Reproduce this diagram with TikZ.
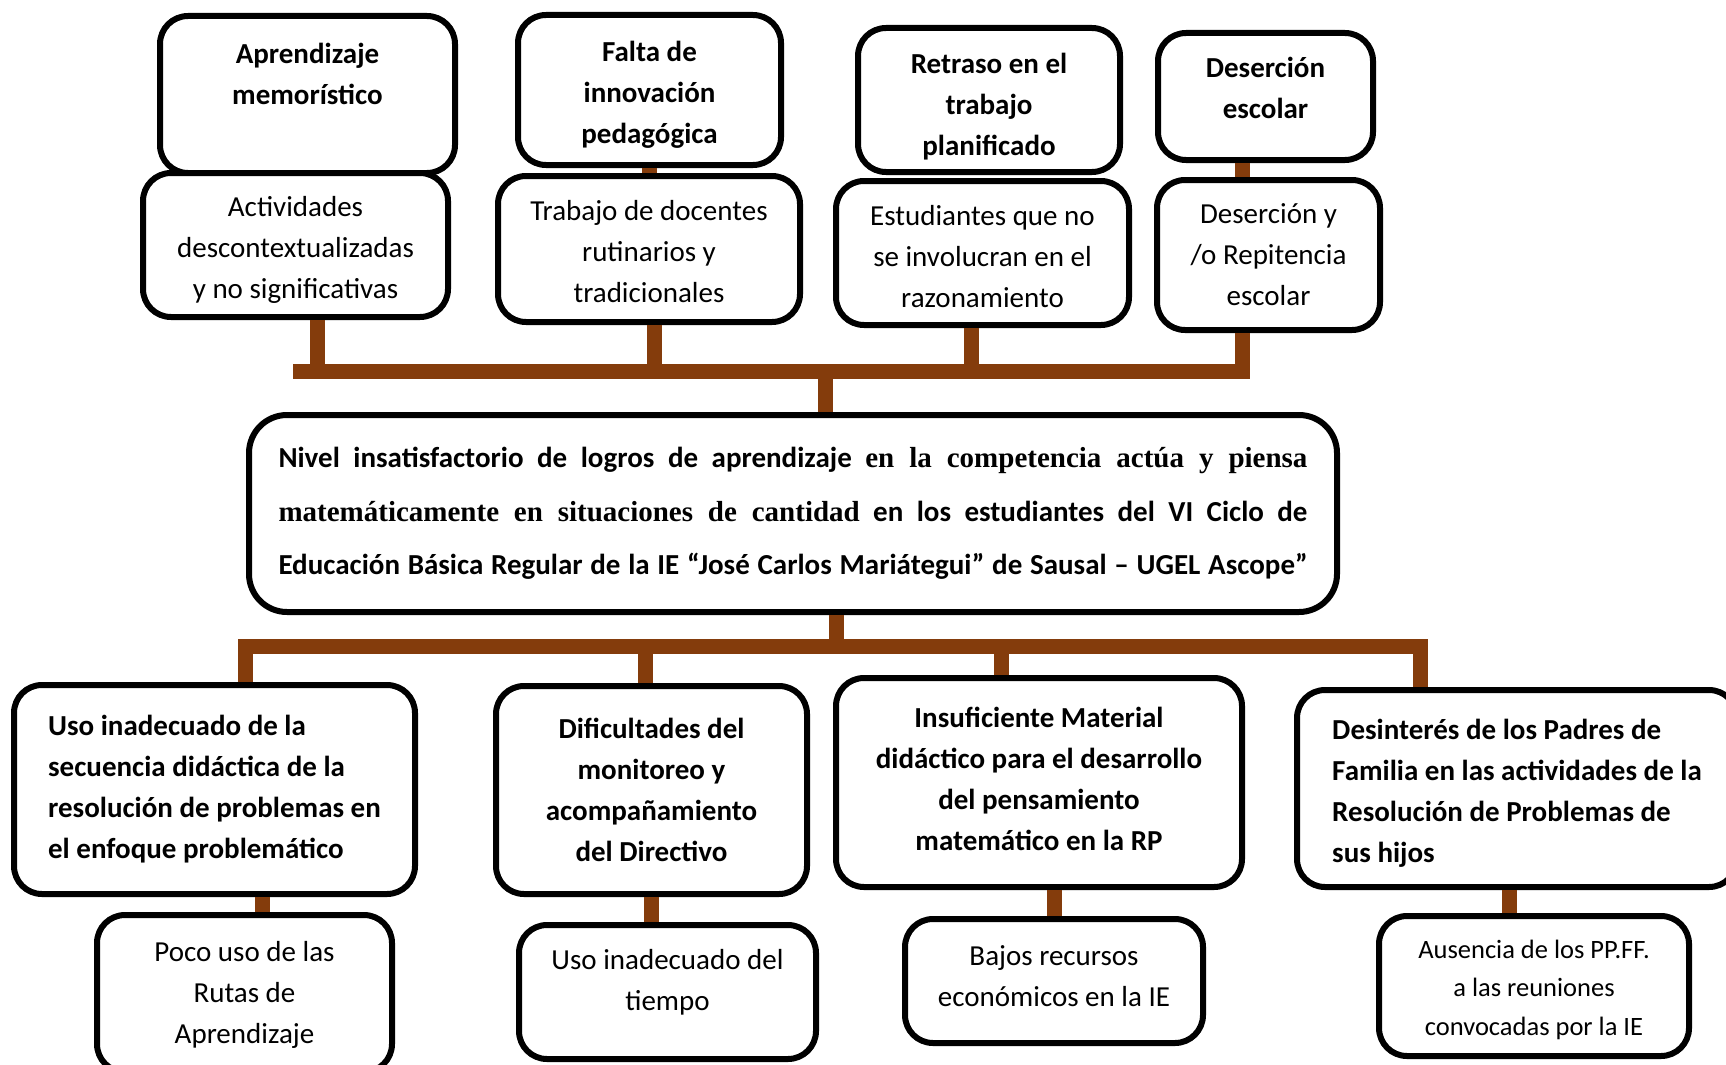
\documentclass[tikz,border=0pt]{standalone}
\usepackage{fontspec}
\setmainfont{Carlito}
\newfontfamily\romana{Liberation Serif}
\definecolor{cafe}{HTML}{843C0C}
\tikzset{
  caja/.style={draw,fill=white,line width=6pt,rounded corners=28pt,align=center,inner sep=0pt,font=\fontsize{29}{41}\selectfont},
  cajab/.style={caja,font=\bfseries\fontsize{29}{41}\selectfont},
  txt/.style={text height=#1pt,text depth=7pt},
  rama/.style={draw=cafe,line width=15pt},
}
\begin{document}
\begin{tikzpicture}[x=1pt,y=-1pt]
        \useasboundingbox(0,0)rectangle(1726,1065);
        \node[cajab,minimum width=295,minimum height=157](e1)at(307.5,94.5){Aprendizaje\\memorístico\\\mbox{}};
        \node[caja,txt=113,minimum width=305,minimum height=144](s1)at(295.5,245){Actividades\\descontextualizadas\\y no significativas};
        \node[cajab,txt=113,minimum width=263,minimum height=150](e2)at(649.5,90){Falta de\\innovación\\pedagógica};
        \node[caja,txt=113,minimum width=302,minimum height=146](s2)at(649,249){Trabajo de docentes\\rutinarios y\\tradicionales};
        \node[cajab,txt=117,minimum width=262,minimum height=144](e3)at(989,100){Retraso en el\\trabajo\\planificado};
        \node[caja,txt=115,minimum width=293,minimum height=144](s3)at(982.5,253){Estudiantes que no\\se involucran en el\\razonamiento};
        \node[cajab,txt=50,minimum width=215,minimum height=127](e4)at(1265.5,96.5){Deserción\\escolar};
        \node[caja,txt=107,minimum width=223,minimum height=150](s4)at(1268.5,255){Deserción y\\/o Repitencia\\escolar};
        \node[cajab,rounded corners=38pt,minimum width=1088,minimum height=197,font=\bfseries\fontsize{29}{53.5}\selectfont](main)at(793,513.5){%
          \makebox[1029pt][s]{Nivel insatisfactorio de logros de aprendizaje {\romana en la competencia actúa y piensa}}\\
          \makebox[1029pt][s]{{\romana matemáticamente en situaciones de cantidad} en los estudiantes del VI Ciclo de}\\
          \makebox[1029pt][s]{Educación Básica Regular de la IE “José Carlos Mariátegui” de Sausal – UGEL Ascope”}};
        \node[cajab,align=left,minimum width=401,minimum height=209](c1)at(214.5,789.5){Uso inadecuado de la\\secuencia didáctica de la\\resolución de problemas en\\el enfoque problemático};
        \node[caja,txt=106,minimum width=295,minimum height=157](d1)at(244.5,993.5){Poco uso de las\\Rutas de\\Aprendizaje};
        \node[cajab,minimum width=311,minimum height=208](c2)at(651.5,790){Dificultades del\\monitoreo y\\acompañamiento\\del Directivo};
        \node[caja,txt=43,minimum width=297,minimum height=134](d2)at(667.5,992){Uso inadecuado del\\tiempo};
        \node[cajab,txt=142,minimum width=406,minimum height=209](c3)at(1039,782.5){Insuficiente Material\\didáctico para el desarrollo\\del pensamiento\\matemático en la RP};
        \node[caja,txt=57,minimum width=298,minimum height=124](d3)at(1054,981){Bajos recursos\\económicos en la IE};
        \node[cajab,txt=154,align=left,minimum width=440,minimum height=197](c4)at(1517,788.5){Desinterés de los Padres de\\Familia en las actividades de la\\Resolución de Problemas de\\sus hijos};
        \node[caja,txt=105,minimum width=310,minimum height=140,font=\fontsize{26.5}{38.5}\selectfont](d4)at(1534,986){Ausencia de los PP.FF.\\a las reuniones\\convocadas por la IE};
        % ramas superiores
        \coordinate(ti)at(293,371);
        \coordinate(td)at(1249,371);
        \coordinate(tm)at(825,371);
        \draw[rama](ti)--(td);
        \draw[rama]([xshift=21.5]s1.south)--([xshift=21.5]s1.south|-td);
        \draw[rama]([xshift=5]s2.south)--([xshift=5]s2.south|-td);
        \draw[rama]([xshift=-11.5]s3.south)--([xshift=-11.5]s3.south|-td);
        \draw[rama]([xshift=-26.5]s4.south)--([xshift=-26.5,yshift=-7.5]s4.south|-td);
        \draw[rama](e2.south)--(e2.south|-s2.north);
        \draw[rama]([xshift=-23.5]e4.south)--([xshift=-23.5]e4.south|-s4.north);
        \draw[rama](tm)--(tm|-main.north);
        % ramas inferiores
        \coordinate(bm)at(836,646);
        \draw[rama](main.south-|bm)--(bm);
        \draw[rama]([xshift=30.5]c1.north)|-(bm)-|([xshift=-97]c4.north);
        \draw[rama]([xshift=-6.5]c2.north)--([xshift=-6.5]c2.north|-bm);
        \draw[rama]([xshift=-38]c3.north)--([xshift=-38]c3.north|-bm);
        \draw[rama]([xshift=17.5]d1.north)--([xshift=17.5]d1.north|-c1.south);
        \draw[rama](c2.south)--(c2.south|-d2.north);
        \draw[rama](d3.north)--(d3.north|-c3.south);
        \draw[rama]([xshift=-25]d4.north)--([xshift=-25]d4.north|-c4.south);
    \end{tikzpicture}
\end{document}
